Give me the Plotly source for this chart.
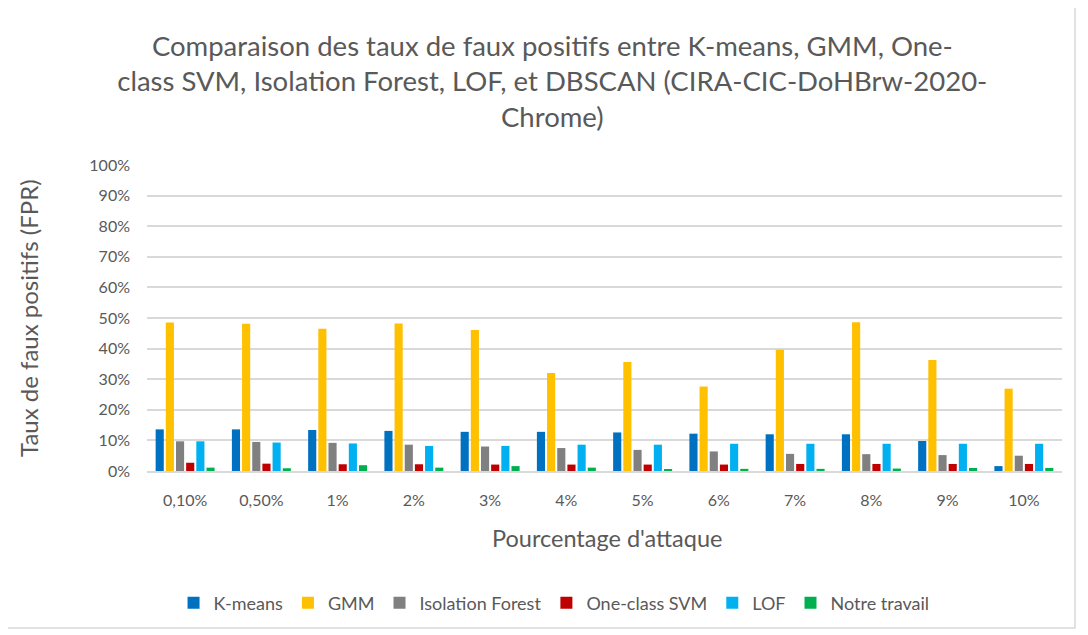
import plotly.graph_objects as go

categories = ["0,10%", "0,50%", "1%", "2%", "3%", "4%", "5%", "6%", "7%", "8%", "9%", "10%"]
kmeans = [13.6, 13.6, 13.4, 13.1, 12.8, 12.8, 12.6, 12.2, 12.0, 12.0, 9.8, 1.6]
gmm = [48.5, 48.1, 46.5, 48.2, 46.1, 32.0, 35.6, 27.6, 39.6, 48.6, 36.3, 26.9]
iso_forest = [9.7, 9.5, 9.2, 8.6, 8.0, 7.5, 6.9, 6.4, 5.6, 5.5, 5.2, 5.0]
ocsvm = [2.7, 2.4, 2.2, 2.2, 2.1, 2.1, 2.1, 2.1, 2.3, 2.3, 2.3, 2.3]
lof = [9.7, 9.3, 9.0, 8.2, 8.2, 8.6, 8.6, 8.9, 8.9, 8.9, 8.9, 8.9]
notre = [1.1, 0.9, 1.9, 1.1, 1.6, 1.1, 0.5, 0.7, 0.7, 0.8, 1.0, 1.0]

series = [
    ("K-means", kmeans, "#0070C0"),
    ("GMM", gmm, "#FFC000"),
    ("Isolation Forest", iso_forest, "#808080"),
    ("One-class SVM", ocsvm, "#C00000"),
    ("LOF", lof, "#00B0F0"),
    ("Notre travail", notre, "#00B050"),
]

FONT = "Lato, Open Sans, sans-serif"
GREY = "#595959"

fig = go.Figure()
for name, vals, color in series:
    fig.add_trace(go.Bar(
        x=categories, y=[v / 100 for v in vals], name=name,
        marker=dict(color=color, line=dict(width=0)),
    ))

fig.update_layout(
    width=1080, height=627,
    paper_bgcolor="white", plot_bgcolor="white",
    margin=dict(l=139, r=26, t=157, b=164, autoexpand=False),
    barmode="group", bargap=0.2, bargroupgap=0.2,
    font=dict(family=FONT, color=GREY, size=16),
    title=dict(
        text="Comparaison des taux de faux positifs entre K-means, GMM, One-<br>class SVM, Isolation Forest, LOF, et DBSCAN (CIRA-CIC-DoHBrw-2020-<br>Chrome)",
        x=0.504, xanchor="center", y=0.924, yanchor="top",
        font=dict(family=FONT, size=27.5, color=GREY),
    ),
    xaxis=dict(
        automargin=False,
        tickfont=dict(size=16, color=GREY), ticklabelstandoff=14,
        showgrid=False, showline=True, linecolor="#d9d9d9", linewidth=1.5, ticks="",
    ),
    yaxis=dict(
        automargin=False,
        range=[0, 1.0], dtick=0.1, tickformat=".0%",
        tickfont=dict(size=16, color=GREY), ticklabelstandoff=16,
        showgrid=True, gridcolor="#d9d9d9", gridwidth=1.5, zeroline=False,
        ticks="",
    ),
    legend=dict(
        orientation="h", xref="container", x=0.5056, xanchor="center",
        yref="container", y=0.051, yanchor="middle",
        font=dict(size=18, color=GREY), itemwidth=30,
        traceorder="normal",
    ),
    annotations=[
        dict(text="Taux de faux positifs (FPR)", xref="paper", yref="paper",
             x=-0.130, y=0.5, textangle=-90, showarrow=False,
             xanchor="center", yanchor="middle",
             font=dict(size=24, color=GREY)),
        dict(text="Pourcentage d'attaque", xref="paper", yref="paper",
             x=0.503, y=-0.219, showarrow=False,
             xanchor="center", yanchor="middle",
             font=dict(size=23.5, color=GREY)),
    ],
    shapes=[dict(
        type="rect", xref="paper", yref="paper",
        x0=-0.157, x1=1.0142, y0=-0.513, y1=1.523,
        line=dict(color="#d9d9d9", width=1.5),
    )],
)

fig.write_html("out.html")
